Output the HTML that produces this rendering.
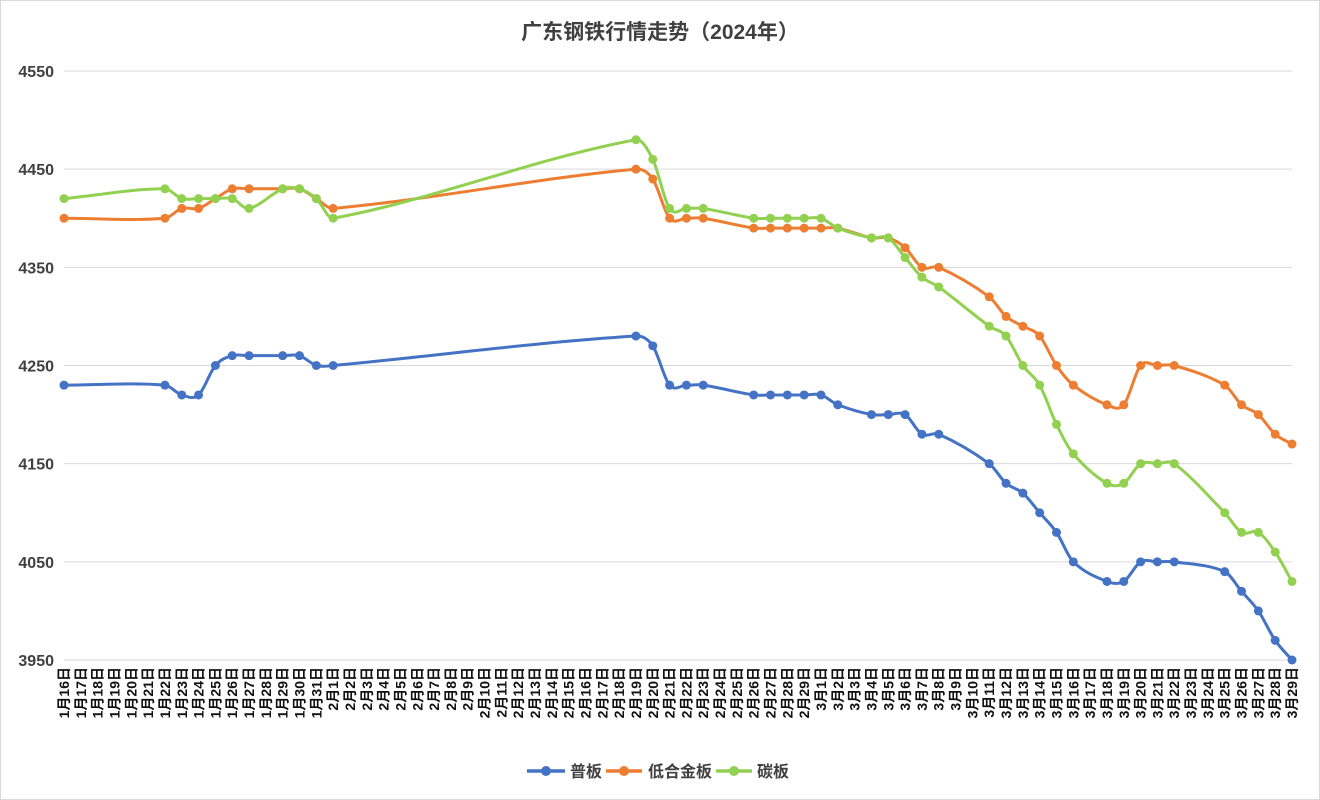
<!DOCTYPE html>
<html><head><meta charset="utf-8"><style>
html,body{margin:0;padding:0;background:#fff;}
svg{display:block;font-family:"Liberation Sans","Noto Sans CJK SC",sans-serif;}
</style></head><body>
<svg id="c" width="1320" height="800" xmlns="http://www.w3.org/2000/svg">
<rect x="0.5" y="0.5" width="1319" height="799" fill="#fff" stroke="#d9d9d9"/>
<text x="660" y="39" text-anchor="middle" font-size="21" font-weight="bold" fill="#404040">广东钢铁行情走势（2024年）</text>
<g id="grid"></g><g id="xl"></g><g id="series"></g>
<g font-size="16" fill="#404040" font-weight="bold">
<line x1="527" y1="771" x2="565" y2="771" stroke="#4472C4" stroke-width="3.5"/><circle cx="546" cy="771" r="5" fill="#4472C4"/><text x="570" y="777">普板</text>
<line x1="606" y1="771" x2="642" y2="771" stroke="#ED7D31" stroke-width="3.5"/><circle cx="624" cy="771" r="5" fill="#ED7D31"/><text x="648" y="777">低合金板</text>
<line x1="716" y1="771" x2="752" y2="771" stroke="#92D050" stroke-width="3.5"/><circle cx="734" cy="771" r="5" fill="#92D050"/><text x="757" y="777">碳板</text>
</g>
</svg>
<script>
const NS="http://www.w3.org/2000/svg";
function el(t,a,p,txt){const e=document.createElementNS(NS,t);for(const k in a)e.setAttribute(k,a[k]);if(txt)e.textContent=txt;p.appendChild(e);return e;}
const X=i=>64+i*(1228/73), Y=v=>660-(v-3950)*589/600;
const g=document.getElementById('grid');
for(let v=3950;v<=4550;v+=100){el('line',{x1:64,x2:1292,y1:Y(v),y2:Y(v),stroke:'#d9d9d9','stroke-width':1},g);
el('text',{x:54,y:Y(v)+6,'text-anchor':'end','font-size':16,'font-weight':'bold',fill:'#404040'},g,String(v));}
const labels=[];for(let d=16;d<=31;d++)labels.push('1月'+d+'日');for(let d=1;d<=29;d++)labels.push('2月'+d+'日');for(let d=1;d<=29;d++)labels.push('3月'+d+'日');
const xl=document.getElementById('xl');
labels.forEach((s,i)=>{const x=X(i)+5;el('text',{x:0,y:0,transform:`translate(${x},667) rotate(-90)`,'text-anchor':'end','font-size':14,'font-weight':'bold',fill:'#111'},xl,s);});
const blue=[[0,4230],[6,4230],[7,4220],[8,4220],[9,4250],[10,4260],[11,4260],[13,4260],[14,4260],[15,4250],[16,4250],[34,4280],[35,4270],[36,4230],[37,4230],[38,4230],[41,4220],[42,4220],[43,4220],[44,4220],[45,4220],[46,4210],[48,4200],[49,4200],[50,4200],[51,4180],[52,4180],[55,4150],[56,4130],[57,4120],[58,4100],[59,4080],[60,4050],[62,4030],[63,4030],[64,4050],[65,4050],[66,4050],[69,4040],[70,4020],[71,4000],[72,3970],[73,3950]];
const orange=[[0,4400],[6,4400],[7,4410],[8,4410],[9,4420],[10,4430],[11,4430],[13,4430],[14,4430],[15,4420],[16,4410],[34,4450],[35,4440],[36,4400],[37,4400],[38,4400],[41,4390],[42,4390],[43,4390],[44,4390],[45,4390],[46,4390],[48,4380],[49,4380],[50,4370],[51,4350],[52,4350],[55,4320],[56,4300],[57,4290],[58,4280],[59,4250],[60,4230],[62,4210],[63,4210],[64,4250],[65,4250],[66,4250],[69,4230],[70,4210],[71,4200],[72,4180],[73,4170]];
const green=[[0,4420],[6,4430],[7,4420],[8,4420],[9,4420],[10,4420],[11,4410],[13,4430],[14,4430],[15,4420],[16,4400],[34,4480],[35,4460],[36,4410],[37,4410],[38,4410],[41,4400],[42,4400],[43,4400],[44,4400],[45,4400],[46,4390],[48,4380],[49,4380],[50,4360],[51,4340],[52,4330],[55,4290],[56,4280],[57,4250],[58,4230],[59,4190],[60,4160],[62,4130],[63,4130],[64,4150],[65,4150],[66,4150],[69,4100],[70,4080],[71,4080],[72,4060],[73,4030]];
const sg=document.getElementById('series');
function draw(data,col){const p=data.map(([i,v])=>[X(i),Y(v)]);const n=p.length;
const m=p.map((q,k)=>{const a=p[Math.max(k-1,0)],b=p[Math.min(k+1,n-1)];return (b[1]-a[1])/(b[0]-a[0]);});
let d=`M${p[0][0]},${p[0][1]}`;
for(let k=0;k<n-1;k++){const p1=p[k],p2=p[k+1],dx=(p2[0]-p1[0])/3;
d+=`C${p1[0]+dx},${p1[1]+m[k]*dx} ${p2[0]-dx},${p2[1]-m[k+1]*dx} ${p2[0]},${p2[1]}`;}
el('path',{d,fill:'none',stroke:col,'stroke-width':3},sg);
p.forEach(q=>el('circle',{cx:q[0],cy:q[1],r:4.5,fill:col},sg));}
draw(blue,'#4472C4');draw(orange,'#ED7D31');draw(green,'#92D050');
</script>
</body></html>
